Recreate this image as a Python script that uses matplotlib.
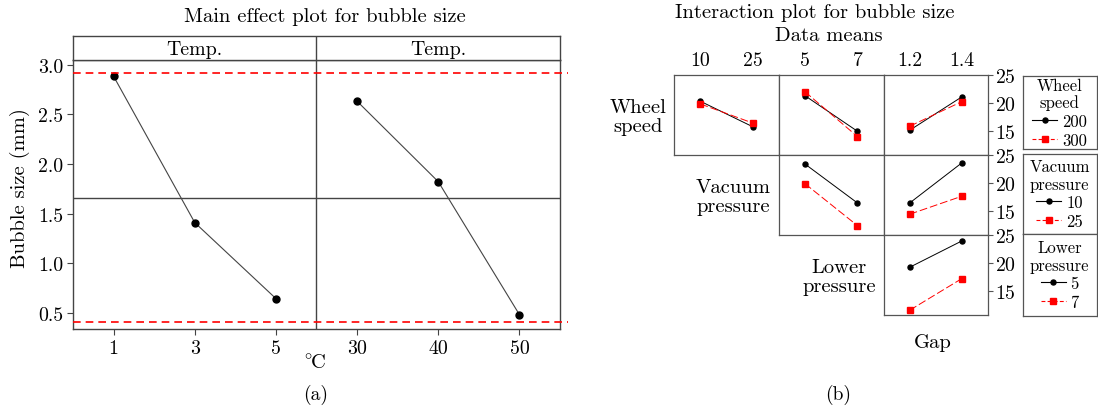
import matplotlib
matplotlib.use('Agg')
import matplotlib.pyplot as plt
from matplotlib.lines import Line2D

plt.rcParams['font.family'] = ['cmr10', 'DejaVu Serif']
plt.rcParams['mathtext.fontset'] = 'cm'
plt.rcParams['axes.formatter.use_mathtext'] = True
plt.rcParams['axes.unicode_minus'] = False

# ---------------- data ----------------
# (a) main effects
left_levels = ['1', '3', '5']
left_means = [2.886, 1.409, 0.642]
right_levels = ['30', '40', '50']
right_means = [2.634, 1.822, 0.480]
panel_titles = ['Temp.', 'Temp.']
grand_mean = 1.655
upper_limit = 2.92
lower_limit = 0.41
main_yticks = [0.5, 1.0, 1.5, 2.0, 2.5, 3.0]

# (b) interaction plot (data means)
ws_levels = ['200', '300']
vp_levels = ['10', '25']
lp_levels = ['5', '7']
gap_levels = ['1.2', '1.4']
ws200_by_vp = [20.25, 15.71]
ws300_by_vp = [19.77, 16.37]
ws200_by_lp = [21.25, 14.89]
ws300_by_lp = [21.96, 13.93]
ws200_by_gap = [15.07, 21.02]
ws300_by_gap = [15.79, 20.18]
vp10_by_lp = [23.34, 16.37]
vp25_by_lp = [19.82, 12.32]
vp10_by_gap = [16.37, 23.52]
vp25_by_gap = [14.36, 17.57]
lp5_by_gap = [19.18, 23.87]
lp7_by_gap = [11.50, 17.14]
inter_yticks = [15, 20, 25]
row_names = ['Wheel\nspeed', 'Vacuum\npressure', 'Lower\npressure']
legend_titles = ['Wheel\nspeed', 'Vacuum\npressure', 'Lower\npressure']

# ---------------- layout helpers ----------------
W, H = 1098, 410
fig = plt.figure(figsize=(W / 100, H / 100), dpi=100)


def box(x0, y0, x1, y1):
    return [x0 / W, 1 - y1 / H, (x1 - x0) / W, (y1 - y0) / H]


def ftext(x, y, s, **kw):
    fig.text(x / W, 1 - y / H, s, **kw)


FRAME = '#444444'
FS = 14.8
TFS = 14.3

# ---------------- (a) ----------------
ax = fig.add_axes(box(73, 61, 560, 330))
xl = list(range(len(left_levels)))
xr = [len(left_levels) + i for i in range(len(right_levels))]
ax.plot(xl, left_means, color='#444444', lw=0.8, marker='o', ms=5,
        mfc='black', mec='black', zorder=3)
ax.plot(xr, right_means, color='#444444', lw=0.8, marker='o', ms=5,
        mfc='black', mec='black', zorder=3)
ax.axvline(len(left_levels) - 0.5, color=FRAME, lw=1)
ax.axhline(grand_mean, color=FRAME, lw=1)
ext = (568 - 73) / (560 - 73)
for lim in (upper_limit, lower_limit):
    ax.axhline(lim, xmin=0, xmax=ext, color='red', lw=1.2,
               ls=(0, (4.6, 3.0)), clip_on=False, zorder=4)
ax.set_xlim(-0.5, len(xl) + len(xr) - 0.5)
ax.set_ylim(0.335, 3.05)
ax.set_xticks(xl + xr)
ax.set_xticklabels(left_levels + right_levels)
ax.set_yticks(main_yticks)
ax.set_yticklabels(['%.1f' % v for v in main_yticks])
ax.tick_params(direction='out', length=4.5, width=0.8, color=FRAME,
               labelsize=TFS, pad=2.5)
for s in ax.spines.values():
    s.set_color(FRAME)
    s.set_linewidth(1)

sax = fig.add_axes(box(73, 37, 560, 61))
sax.set_xlim(ax.get_xlim())
sax.set_ylim(0, 1)
sax.set_xticks([])
sax.set_yticks([])
sax.axvline(len(left_levels) - 0.5, color=FRAME, lw=1)
sax.text((len(xl) - 1) / 2, 0.45, panel_titles[0], ha='center', va='center', fontsize=TFS)
sax.text(len(xl) + (len(xr) - 1) / 2, 0.45, panel_titles[1], ha='center', va='center', fontsize=TFS)
for s in sax.spines.values():
    s.set_color(FRAME)
    s.set_linewidth(1)

ftext(325, 17, 'Main effect plot for bubble size', ha='center', va='center', fontsize=FS)
ftext(20, 188, 'Bubble size (mm)', ha='center', va='center', rotation=90, fontsize=FS)
ftext(315, 364, r'$^{\circ}\!\mathrm{C}$', ha='center', va='center', fontsize=FS)
ftext(316, 395, '(a)', ha='center', va='center', fontsize=14)

# ---------------- (b) ----------------
col_x = [674.3, 778.7, 883.7, 987.7]
row_y = [75.7, 155.7, 235.7, 315.7]
col_levels = [vp_levels, lp_levels, gap_levels]
row_levels = [ws_levels, vp_levels, lp_levels]
panel_data = {
    (0, 0): (ws200_by_vp, ws300_by_vp),
    (0, 1): (ws200_by_lp, ws300_by_lp),
    (0, 2): (ws200_by_gap, ws300_by_gap),
    (1, 1): (vp10_by_lp, vp25_by_lp),
    (1, 2): (vp10_by_gap, vp25_by_gap),
    (2, 2): (lp5_by_gap, lp7_by_gap),
}
PANEL = '#555555'
for (r, c), (s1, s2) in panel_data.items():
    pax = fig.add_axes(box(col_x[c], row_y[r], col_x[c + 1], row_y[r + 1]))
    xs = list(range(len(col_levels[c])))
    pax.plot(xs, s1, color='black', lw=0.7, marker='o', ms=3.6, zorder=3)
    pax.plot(xs, s2, color='red', lw=0.7, ls=(0, (8, 3)), marker='s',
             ms=4.6, mfc='red', mec='red', zorder=3)
    pax.set_xlim(-0.5, 1.5)
    pax.set_ylim(10.7, 25)
    if r == 0:
        pax.xaxis.tick_top()
        pax.set_xticks(xs)
        pax.set_xticklabels(col_levels[c])
        pax.tick_params(axis='x', length=0, pad=4, labelsize=TFS)
    else:
        pax.set_xticks([])
    if c == 2:
        pax.yaxis.tick_right()
        pax.set_yticks(inter_yticks)
        pax.tick_params(axis='y', length=3.5, width=0.8, color=PANEL, pad=1.5,
                        labelsize=TFS)
    else:
        pax.set_yticks([])
    for s in pax.spines.values():
        s.set_color(PANEL)
        s.set_linewidth(0.9)

for r, name in enumerate(row_names):
    ftext(col_x[r] - 8, (row_y[r] + row_y[r + 1]) / 2 + 2, name, ha='right',
          va='center', multialignment='center', fontsize=FS, linespacing=1.05)

ftext(815, 13, 'Interaction plot for bubble size', ha='center', va='center', fontsize=FS)
ftext(829, 36, 'Data means', ha='center', va='center', fontsize=FS)
ftext(933, 343, 'Gap', ha='center', va='center', fontsize=FS)
ftext(838, 395, '(b)', ha='center', va='center', fontsize=14)

legend_boxes = [(1022.5, 77, 1097, 150), (1022.5, 155, 1097, 235), (1022.5, 235, 1097, 317)]
for (x0, y0, x1, y1), title, levels in zip(legend_boxes, legend_titles, row_levels):
    lax = fig.add_axes(box(x0, y0, x1, y1))
    lax.set_xticks([])
    lax.set_yticks([])
    for s in lax.spines.values():
        s.set_color(PANEL)
        s.set_linewidth(0.9)
    h1 = Line2D([], [], color='black', lw=0.8, marker='o', ms=3.6)
    h2 = Line2D([], [], color='red', lw=0.8, ls=(0, (3.5, 2)), marker='s', ms=4.6)
    leg = lax.legend([h1, h2], levels, title=title, loc='center',
                     frameon=False, fontsize=12, title_fontsize=12,
                     handlelength=1.5, handletextpad=0.3, labelspacing=0.2,
                     borderpad=0.1, borderaxespad=0.0)
    leg.get_title().set_multialignment('center')
    leg.get_title().set_linespacing(1.15)

fig.savefig('out.png', dpi=100)
